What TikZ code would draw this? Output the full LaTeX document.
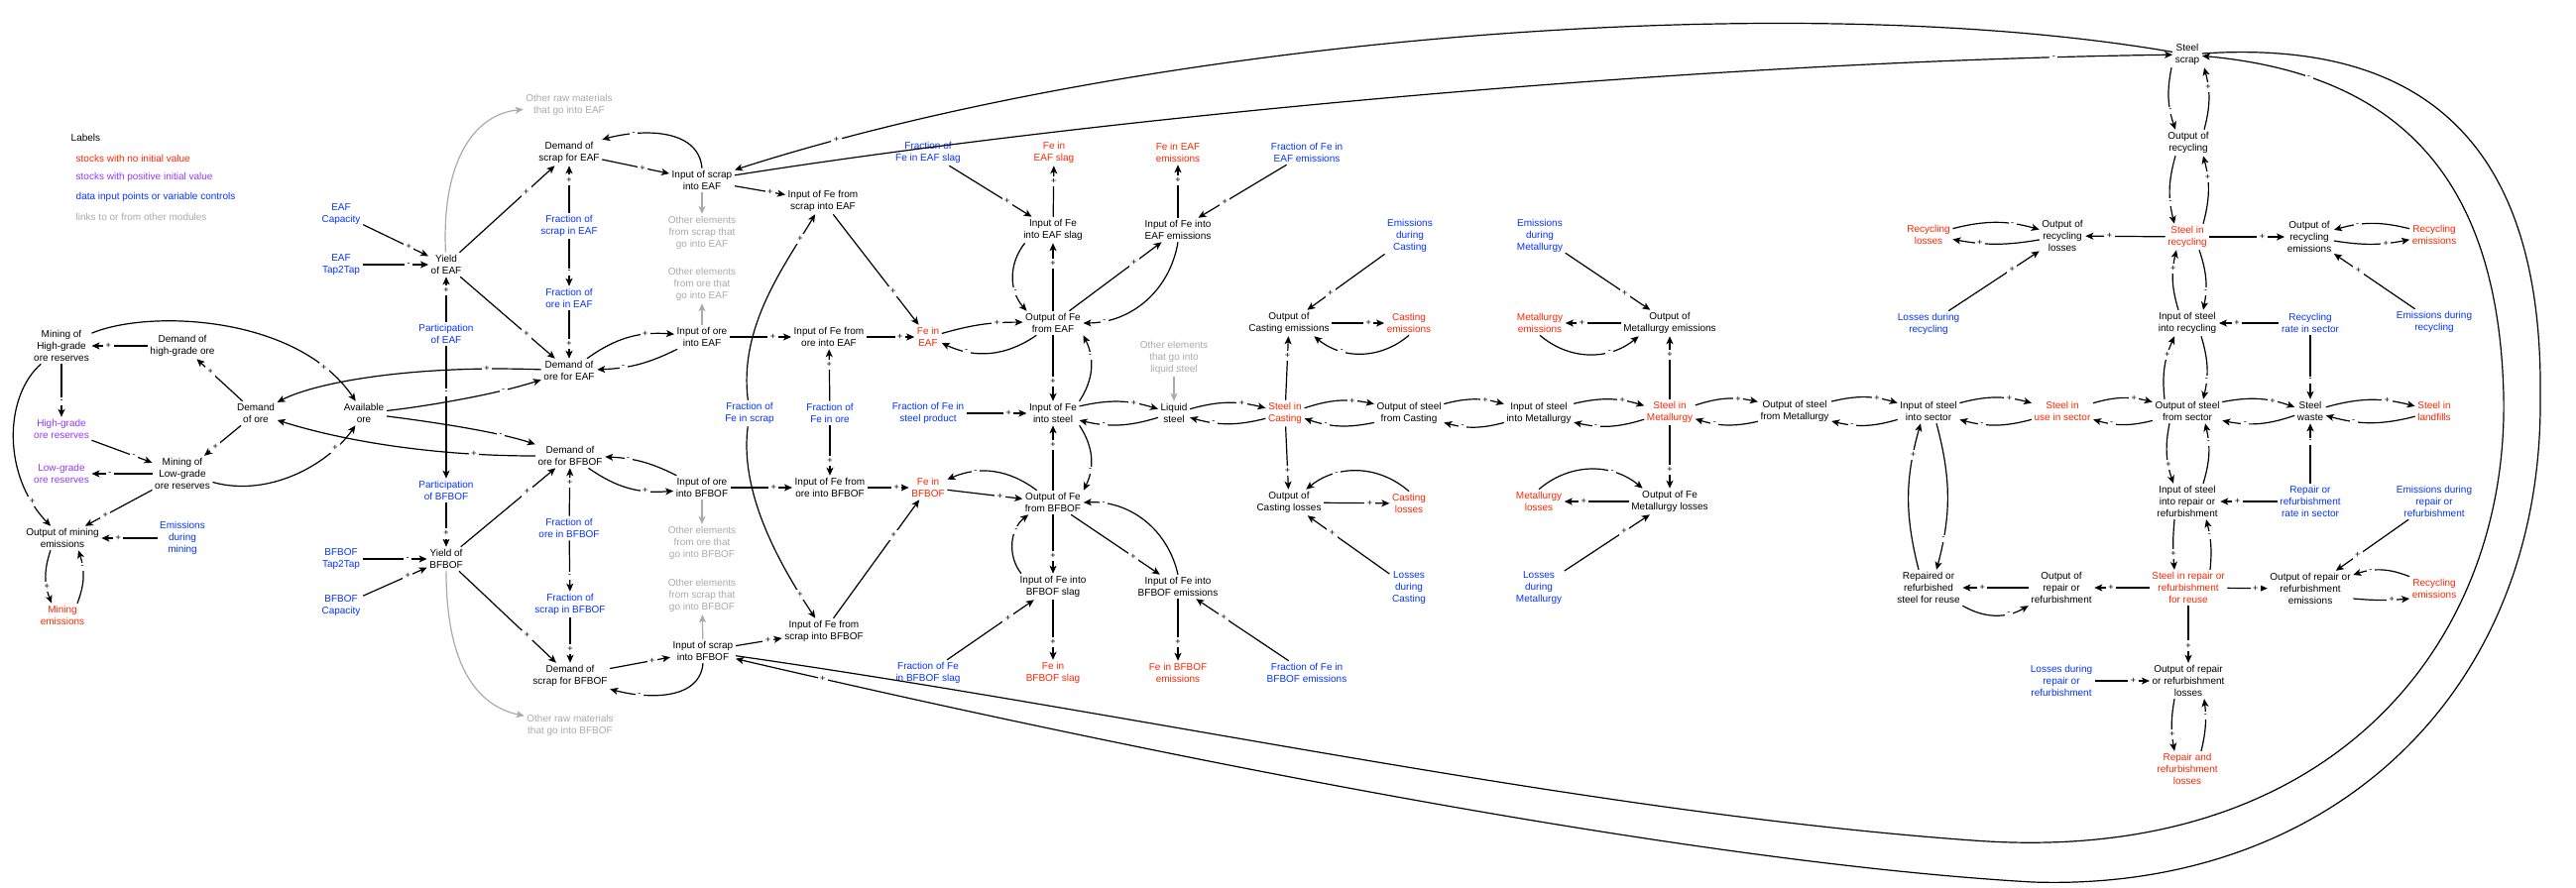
\documentclass[tikz,border=0pt]{standalone}
\usepackage{fontspec}
\setmainfont{Liberation Sans}
\usetikzlibrary{arrows.meta}
\definecolor{cred}{RGB}{255,38,0}
\definecolor{cpur}{RGB}{148,55,255}
\definecolor{cblu}{RGB}{4,51,255}
\definecolor{cgry}{RGB}{170,170,170}
\begin{document}
\begin{tikzpicture}[x=1pt,y=-1pt,
  every node/.style={font=\fontsize{10}{11.8}\selectfont},
  nblk/.style={align=center, inner sep=2.5pt},
  nred/.style={nblk, text=cred},
  npur/.style={nblk, text=cpur},
  nblu/.style={nblk, text=cblu},
  ngry/.style={nblk, text=cgry},
  lk/.style={draw, line width=1.2pt, -{Stealth[length=8pt,width=7pt,inset=2pt]}},
  glk/.style={lk, draw=cgry},
  pp/.style={pos=0.7, fill=white, inner sep=2.5pt, font=\fontsize{9}{9}\selectfont}]
\fill[white] (0,0) rectangle (2598,895);
\useasboundingbox (0,0) rectangle (2598,895);
% legend
\node[nblk,anchor=west] (lab) at (69,139) {Labels};
\node[nred,anchor=west] (leg1) at (74,160) {stocks with no initial value};
\node[npur,anchor=west] (leg2) at (74,179) {stocks with positive initial value};
\node[nblu,anchor=west] (leg3) at (74,199) {data input points or variable controls};
\node[ngry,anchor=west] (leg4) at (74,219) {links to or from other modules};
% mining
\node[nblk] (mhg) at (62,349) {Mining of\\High-grade\\ore reserves};
\node[nblk] (dhg) at (184,349) {Demand of\\high-grade ore};
\node[nblk] (dore) at (258,417) {Demand\\of ore};
\node[nblk] (aore) at (367,417) {Available\\ore};
\node[npur] (hgr) at (62,433) {High-grade\\ore reserves};
\node[npur] (lgr) at (62,478) {Low-grade\\ore reserves};
\node[nblk] (mlg) at (184,478) {Mining of\\Low-grade\\ore reserves};
\node[nblk] (ome) at (63,543) {Output of mining\\emissions};
\node[nblu] (edm) at (184,543) {Emissions\\during\\mining};
\node[nred] (me) at (63,621) {Mining\\emissions};
% EAF
\node[nblu] (eafcap) at (344,216) {EAF\\Capacity};
\node[nblu] (eaft2t) at (344,267) {EAF\\Tap2Tap};
\node[nblk] (yeaf) at (450,267) {Yield\\of EAF};
\node[nblu] (peaf) at (450,337) {Participation\\of EAF};
\node[ngry] (ormeaf) at (574,106) {Other raw materials\\that go into EAF};
\node[nblk] (dseaf) at (574,154) {Demand of\\scrap for EAF};
\node[nblu] (fseaf) at (574,228) {Fraction of\\scrap in EAF};
\node[nblu] (foeaf) at (574,301) {Fraction of\\ore in EAF};
\node[nblk] (doeaf) at (574,374) {Demand of\\ore for EAF};
\node[nblk] (iseaf) at (708,182) {Input of scrap\\into EAF};
\node[ngry] (oeseaf) at (708,235) {Other elements\\from scrap that\\go into EAF};
\node[ngry] (oeoeaf) at (708,287) {Other elements\\from ore that\\go into EAF};
\node[nblk] (ioeaf) at (708,340) {Input of ore\\into EAF};
\node[nblk] (ifseaf) at (830,203) {Input of Fe from\\scrap into EAF};
\node[nblk] (ifoeaf) at (836,340) {Input of Fe from\\ore into EAF};
\node[nblu] (ffs) at (756,417) {Fraction of\\Fe in scrap};
\node[nblu] (ffo) at (837,417) {Fraction of\\Fe in ore};
% BFBOF
\node[nblu] (bft2t) at (344,564) {BFBOF\\Tap2Tap};
\node[nblu] (bfcap) at (344,611) {BFBOF\\Capacity};
\node[nblk] (ybf) at (450,564) {Yield of\\BFBOF};
\node[nblu] (pbf) at (450,495) {Participation\\of BFBOF};
\node[nblk] (dobf) at (575,460) {Demand of\\ore for BFBOF};
\node[nblu] (fobf) at (574,533) {Fraction of\\ore in BFBOF};
\node[nblu] (fsbf) at (575,610) {Fraction of\\scrap in BFBOF};
\node[nblk] (dsbf) at (575,682) {Demand of\\scrap for BFBOF};
\node[ngry] (ormbf) at (575,732) {Other raw materials\\that go into BFBOF};
\node[nblk] (iobf) at (708,492) {Input of ore\\into BFBOF};
\node[ngry] (oeobf) at (708,548) {Other elements\\from ore that\\go into BFBOF};
\node[ngry] (oesbf) at (708,601) {Other elements\\from scrap that\\go into BFBOF};
\node[nblk] (isbf) at (709,657) {Input of scrap\\into BFBOF};
\node[nblk] (ifobf) at (837,492) {Input of Fe from\\ore into BFBOF};
\node[nblk] (ifsbf) at (831,637) {Input of Fe from\\scrap into BFBOF};
% Fe
\node[nblu] (ffeafslag) at (936,154) {Fraction of\\Fe in EAF slag};
\node[nred] (feeafslag) at (1063,154) {Fe in\\EAF slag};
\node[nred] (feeafem) at (1188,154) {Fe in EAF\\emissions};
\node[nblu] (ffeafem) at (1318,154) {Fraction of Fe in\\EAF emissions};
\node[nblk] (ifeeafslag) at (1062,232) {Input of Fe\\into EAF slag};
\node[nblk] (ifeeafem) at (1188,232) {Input of Fe into\\EAF emissions};
\node[nblk] (ofeeaf) at (1062,326) {Output of Fe\\from EAF};
\node[nred] (feeaf) at (936,340) {Fe in\\EAF};
\node[ngry] (oeliq) at (1184,361) {Other elements\\that go into\\liquid steel};
\node[nblu] (ffesteel) at (936,417) {Fraction of Fe in\\steel product};
\node[nblk] (ifesteel) at (1062,417) {Input of Fe\\into steel};
\node[nblk] (liq) at (1184,417) {Liquid\\steel};
\node[nred] (feb) at (936,492) {Fe in\\BFBOF};
\node[nblk] (ofeb) at (1062,507) {Output of Fe\\from BFBOF};
\node[nblk] (ifebslag) at (1062,592) {Input of Fe into\\BFBOF slag};
\node[nblk] (ifebem) at (1188,592) {Input of Fe into\\BFBOF emissions};
\node[nblu] (ffebslag) at (936,679) {Fraction of Fe\\in BFBOF slag};
\node[nred] (febslag) at (1062,679) {Fe in\\BFBOF slag};
\node[nred] (febem) at (1188,679) {Fe in BFBOF\\emissions};
\node[nblu] (ffebem) at (1318,679) {Fraction of Fe in\\BFBOF emissions};
% Casting / Metallurgy
\node[nred] (sic) at (1296,417) {Steel in\\Casting};
\node[nblk] (oce) at (1300,326) {Output of\\Casting emissions};
\node[nblk] (ocl) at (1300,507) {Output of\\Casting losses};
\node[nblu] (edc) at (1422,238) {Emissions\\during\\Casting};
\node[nred] (ce) at (1421,326) {Casting\\emissions};
\node[nred] (cl) at (1421,508) {Casting\\losses};
\node[nblu] (ldc) at (1421,593) {Losses\\during\\Casting};
\node[nblk] (osc) at (1421,417) {Output of steel\\from Casting};
\node[nblk] (ism) at (1552,417) {Input of steel\\into Metallurgy};
\node[nblu] (edmet) at (1553,238) {Emissions\\during\\Metallurgy};
\node[nred] (metem) at (1553,326) {Metallurgy\\emissions};
\node[nred] (metl) at (1552,506) {Metallurgy\\losses};
\node[nblu] (ldm) at (1552,593) {Losses\\during\\Metallurgy};
\node[nred] (sim) at (1684,416) {Steel in\\Metallurgy};
\node[nblk] (ome2) at (1684,326) {Output of\\Metallurgy emissions};
\node[nblk] (ofml) at (1684,506) {Output of Fe\\Metallurgy losses};
\node[nblk] (osm) at (1810,415) {Output of steel\\from Metallurgy};
% sector
\node[nblk] (iss) at (1945,415) {Input of steel\\into sector};
\node[nred] (rl) at (1945,237) {Recycling\\losses};
\node[nblu] (ldr) at (1945,327) {Losses during\\recycling};
\node[nblk] (orl) at (2080,238) {Output of\\recycling\\losses};
\node[nred] (sius) at (2080,415) {Steel in\\use in sector};
\node[nblk] (rrs) at (1945,593) {Repaired or\\refurbished\\steel for reuse};
\node[nblk] (orr) at (2079,593) {Output of\\repair or\\refurbishment};
\node[nblu] (ldrr) at (2079,687) {Losses during\\repair or\\refurbishment};
\node[nblk] (ss) at (2206,55) {Steel\\scrap};
\node[nblk] (orec) at (2207,144) {Output of\\recycling};
\node[nred] (sir) at (2206,239) {Steel in\\recycling};
\node[nblk] (ore) at (2329,239) {Output of\\recycling\\emissions};
\node[nred] (re1) at (2455,237) {Recycling\\emissions};
\node[nblk] (isr) at (2206,326) {Input of steel\\into recycling};
\node[nblu] (rrate) at (2330,326) {Recycling\\rate in sector};
\node[nblu] (edr) at (2455,325) {Emissions during\\recycling};
\node[nblk] (oss) at (2206,415) {Output of steel\\from sector};
\node[nblk] (sw) at (2330,415) {Steel\\waste};
\node[nred] (sil) at (2455,415) {Steel in\\landfills};
\node[nblk] (isrr) at (2206,506) {Input of steel\\into repair or\\refurbishment};
\node[nblu] (rrrate) at (2330,506) {Repair or\\refurbishment\\rate in sector};
\node[nblu] (edrr) at (2455,506) {Emissions during\\repair or\\refurbishment};
\node[nred] (sirr) at (2207,593) {Steel in repair or\\refurbishment\\for reuse};
\node[nblk] (orre) at (2330,594) {Output of repair or\\refurbishment\\emissions};
\node[nred] (re2) at (2455,594) {Recycling\\emissions};
\node[nblk] (orrl) at (2207,687) {Output of repair\\or refurbishment\\losses};
\node[nred] (rrl) at (2206,776) {Repair and\\refurbishment\\losses};

% ---------- mining links
\draw[lk] (dhg) -- node[pp]{+} (mhg);
\draw[lk] (mhg) -- node[pp]{-} (hgr);
\draw[lk] (dore) -- node[pp]{+} (dhg);
\draw[lk] (dore) -- node[pp]{+} (mlg);
\draw[lk] (hgr) -- node[pp]{-} (mlg);
\draw[lk] (mlg) -- node[pp]{-} (lgr);
\draw[lk] (mlg) -- node[pp]{+} (ome);
\draw[lk] (mhg) .. controls (4,400) and (2,480) .. node[pp,pos=0.85]{+} (ome);
\draw[lk] (edm) -- node[pp]{+} (ome);
\draw[lk] ([xshift=-12pt]ome.south) to[bend right=20] node[pp]{+} ([xshift=-11pt]me.north);
\draw[lk] ([xshift=15pt]me.north) to[bend right=20] node[pp]{-} ([xshift=16pt]ome.south);
\draw[lk] (mhg) .. controls (150,312) and (300,318) .. node[pp,pos=0.85]{+} (aore);
\draw[lk] (mlg) .. controls (270,502) and (330,470) .. node[pp,pos=0.8]{+} (aore);
\draw[lk] (doeaf) .. controls (420,368) and (320,385) .. node[pp,pos=0.15]{+} (dore);
\draw[lk] (dobf) .. controls (420,460) and (330,440) .. node[pp,pos=0.18]{+} (dore);
\draw[lk] (aore) .. controls (430,410) and (500,398) .. node[pp,pos=0.75]{-} (doeaf);
\draw[lk] (aore) .. controls (430,425) and (500,435) .. node[pp,pos=0.75]{-} (dobf);
% ---------- EAF links
\draw[lk] (eafcap) -- node[pp]{+} (yeaf);
\draw[lk] (eaft2t) -- node[pp]{-} (yeaf);
\draw[lk] (peaf) -- node[pp]{+} (yeaf);
\draw[lk] (yeaf) -- node[pp]{+} (dseaf);
\draw[lk] (yeaf) -- node[pp]{+} (doeaf);
\draw[glk] (yeaf) .. controls (445,160) and (480,115) .. (ormeaf);
\draw[lk] (fseaf) -- node[pp]{+} (dseaf);
\draw[lk] (fseaf) -- node[pp]{-} (foeaf);
\draw[lk] (foeaf) -- node[pp]{+} (doeaf);
\draw[lk] (dseaf) -- node[pp,pos=0.6]{+} (iseaf);
\draw[lk] (iseaf.north) to[out=95,in=15] node[pp,pos=0.75]{-} (dseaf.north east);
\draw[glk] (iseaf) -- (oeseaf);
\draw[lk] (iseaf) -- node[pp]{+} (ifseaf);
\draw[lk] (doeaf) to[bend left=20] node[pp]{+} (ioeaf);
\draw[lk] (ioeaf) to[bend left=12] node[pp]{-} (doeaf);
\draw[glk] (ioeaf) -- (oeoeaf);
\draw[lk] (ioeaf) -- node[pp]{+} (ifoeaf);
\draw[lk] (ffs) .. controls (745,330) and (790,270) .. node[pp,pos=0.85]{+} (ifseaf);
\draw[lk] (ffs) .. controls (745,500) and (790,575) .. node[pp,pos=0.85]{+} (ifsbf);
\draw[lk] (ffo) -- node[pp]{+} (ifoeaf);
\draw[lk] (ffo) -- node[pp]{+} (ifobf);
% ---------- BFBOF links
\draw[lk] (bft2t) -- node[pp]{-} (ybf);
\draw[lk] (bfcap) -- node[pp]{+} (ybf);
\draw[lk] (peaf) -- node[pp,pos=0.35]{-} (pbf);
\draw[lk] (pbf) -- node[pp]{+} (ybf);
\draw[lk] (ybf) -- node[pp]{+} (dobf);
\draw[lk] (ybf) -- node[pp]{+} (dsbf);
\draw[glk] (ybf) .. controls (450,670) and (480,712) .. (ormbf);
\draw[lk] (fobf) -- node[pp]{+} (dobf);
\draw[lk] (fobf) -- node[pp]{-} (fsbf);
\draw[lk] (fsbf) -- node[pp]{+} (dsbf);
\draw[lk] (dobf) to[bend right=20] node[pp]{+} (iobf);
\draw[lk] (iobf) to[bend right=12] node[pp]{-} (dobf);
\draw[glk] (iobf) -- (oeobf);
\draw[lk] (iobf) -- node[pp]{+} (ifobf);
\draw[lk] (dsbf) -- node[pp]{+} (isbf);
\draw[lk] (isbf.south) to[out=-95,in=-15] node[pp,pos=0.75]{-} (dsbf.south east);
\draw[glk] (isbf) -- (oesbf);
\draw[lk] (isbf) -- node[pp]{+} (ifsbf);
% ---------- Fe links
\draw[lk] (ifseaf) -- node[pp]{+} (feeaf);
\draw[lk] (ifoeaf) -- node[pp]{+} (feeaf);
\draw[lk] (feeaf) to[bend left=8] node[pp]{+} (ofeeaf);
\draw[lk] (ofeeaf) to[bend left=30] node[pp,pos=0.75]{-} (feeaf);
\draw[lk] (ofeeaf) -- node[pp]{+} (ifeeafslag);
\draw[lk] ([xshift=4pt]ifeeafslag.south west) to[bend right=40] node[pp]{-} ([xshift=4pt]ofeeaf.north west);
\draw[lk] (ifeeafslag) -- node[pp]{+} (feeafslag);
\draw[lk] (ffeafslag) -- node[pp]{+} (ifeeafslag);
\draw[lk] (ofeeaf) -- node[pp]{+} (ifeeafem);
\draw[lk] (ifeeafem.south) to[bend left=40] node[pp,pos=0.85]{-} (ofeeaf.east);
\draw[lk] (ifeeafem) -- node[pp]{+} (feeafem);
\draw[lk] (ffeafem) -- node[pp]{+} (ifeeafem);
\draw[lk] (ofeeaf) -- node[pp]{+} (ifesteel);
\draw[lk] (ifesteel.north east) to[bend right=30] node[pp]{-} (ofeeaf.south east);
\draw[lk] (ffesteel) -- node[pp]{+} (ifesteel);
\draw[lk] (ifesteel) to[bend left=15] node[pp]{+} (liq);
\draw[lk] (liq) to[bend left=15] node[pp]{-} (ifesteel);
\draw[glk] (oeliq) -- (liq);
\draw[lk] (liq) to[bend left=15] node[pp]{+} (sic);
\draw[lk] (sic) to[bend left=15] node[pp]{-} (liq);
\draw[lk] (ofeb) -- node[pp]{+} (ifesteel);
\draw[lk] (ifesteel.south east) to[bend left=30] node[pp]{-} (ofeb.north east);
\draw[lk] (ifobf) -- node[pp]{+} (feb);
\draw[lk] (ifsbf) -- node[pp]{+} (feb);
\draw[lk] (feb) -- node[pp]{+} (ofeb);
\draw[lk] (ofeb) to[bend right=30] node[pp]{-} (feb);
\draw[lk] (ofeb) -- node[pp]{+} (ifebslag);
\draw[lk] ([xshift=4pt]ifebslag.north west) to[bend left=45] node[pp]{-} ([xshift=6pt]ofeb.south west);
\draw[lk] (ifebslag) -- node[pp]{+} (febslag);
\draw[lk] (ffebslag) -- node[pp]{+} (ifebslag);
\draw[lk] (ofeb) -- node[pp]{+} (ifebem);
\draw[lk] (ifebem.north) to[bend right=40] node[pp,pos=0.85]{-} (ofeb.east);
\draw[lk] (ifebem) -- node[pp]{+} (febem);
\draw[lk] (ffebem) -- node[pp]{+} (ifebem);
% ---------- Casting / Metallurgy links
\draw[lk] (sic) -- node[pp]{+} (oce);
\draw[lk] (edc) -- node[pp]{+} (oce);
\draw[lk] (oce) -- node[pp]{+} (ce);
\draw[lk] (ce.south) to[bend left=40] node[pp]{-} ([xshift=-18pt]oce.south east);
\draw[lk] (sic) -- node[pp]{+} (ocl);
\draw[lk] (ocl) -- node[pp]{+} (cl);
\draw[lk] (cl.north) to[bend right=40] node[pp]{-} ([xshift=-18pt]ocl.north east);
\draw[lk] (ldc) -- node[pp]{+} (ocl);
\draw[lk] (sic) to[bend left=15] node[pp]{+} (osc);
\draw[lk] (osc) to[bend left=15] node[pp]{-} (sic);
\draw[lk] (osc) to[bend left=15] node[pp]{+} (ism);
\draw[lk] (ism) to[bend left=15] node[pp]{-} (osc);
\draw[lk] (ism) to[bend left=15] node[pp]{+} (sim);
\draw[lk] (sim) to[bend left=15] node[pp]{-} (ism);
\draw[lk] (sim) -- node[pp]{+} (ome2);
\draw[lk] (edmet) -- node[pp]{+} (ome2);
\draw[lk] (ome2) -- node[pp]{+} (metem);
\draw[lk] (metem.south) to[bend right=40] node[pp]{-} ([xshift=18pt]ome2.south west);
\draw[lk] (sim) -- node[pp]{+} (ofml);
\draw[lk] (ofml) -- node[pp]{+} (metl);
\draw[lk] (metl.north) to[bend left=40] node[pp]{-} ([xshift=14pt]ofml.north west);
\draw[lk] (ldm) -- node[pp]{+} (ofml);
\draw[lk] (sim) to[bend left=15] node[pp]{+} (osm);
\draw[lk] (osm) to[bend left=15] node[pp]{-} (sim);
\draw[lk] (osm) to[bend left=15] node[pp]{+} (iss);
\draw[lk] (iss) to[bend left=15] node[pp]{-} (osm);
% ---------- sector links
\draw[lk] (iss) to[bend left=15] node[pp]{+} (sius);
\draw[lk] (sius) to[bend left=15] node[pp]{-} (iss);
\draw[lk] (sius) to[bend left=15] node[pp]{+} (oss);
\draw[lk] (oss) to[bend left=15] node[pp]{-} (sius);
\draw[lk] ([xshift=8pt]iss.south) to[bend left=15] node[pp,pos=0.8]{-} ([xshift=8pt]rrs.north);
\draw[lk] ([xshift=-10pt]rrs.north) to[bend left=15] node[pp,pos=0.8]{+} ([xshift=-8pt]iss.south);
\draw[lk] (orr) -- node[pp]{+} (rrs);
\draw[lk] (rrs.south east) to[bend right=30] node[pp]{-} (orr.south west);
\draw[lk] (sirr) -- node[pp]{+} (orr);
\draw[lk] ([xshift=-18pt]oss.south) to[bend right=15] node[pp]{+} ([xshift=-14pt]isrr.north);
\draw[lk] ([xshift=16pt]isrr.north) to[bend right=15] node[pp]{-} ([xshift=18pt]oss.south);
\draw[lk] (rrrate) -- node[pp]{+} (isrr);
\draw[lk] (rrrate) -- node[pp]{-} (sw);
\draw[lk] (oss) to[bend left=15] node[pp]{+} (sw);
\draw[lk] (sw) to[bend left=15] node[pp]{-} (oss);
\draw[lk] (sw) to[bend left=15] node[pp]{+} (sil);
\draw[lk] (sil) to[bend left=15] node[pp]{-} (sw);
\draw[lk] (rrate) -- node[pp]{-} (sw);
\draw[lk] (rrate) -- node[pp]{+} (isr);
\draw[lk] ([xshift=-23pt]oss.north) to[bend left=15] node[pp]{+} ([xshift=-13pt]isr.south);
\draw[lk] ([xshift=14pt]isr.south) to[bend left=15] node[pp]{-} ([xshift=16pt]oss.north);
\draw[lk] ([xshift=-9pt]isr.north) to[bend left=15] node[pp]{+} ([xshift=-11pt]sir.south);
\draw[lk] ([xshift=12pt]sir.south) to[bend left=15] node[pp]{-} ([xshift=16pt]isr.north);
\draw[lk] ([xshift=16pt]sir.north) to[bend right=15] node[pp]{+} ([xshift=15pt]orec.south);
\draw[lk] ([xshift=-13pt]orec.south) to[bend right=15] node[pp]{-} ([xshift=-13pt]sir.north);
\draw[lk] ([xshift=16pt]orec.north) to[bend right=15] node[pp]{+} ([xshift=17pt]ss.south);
\draw[lk] ([xshift=-16pt]ss.south) to[bend right=15] node[pp]{-} ([xshift=-13pt]orec.north);
\draw[lk] (sir) -- node[pp]{+} (orl);
\draw[lk] (orl) to[bend left=10] node[pp]{+} (rl);
\draw[lk] (rl) to[bend left=15] node[pp]{-} (orl);
\draw[lk] (ldr) -- node[pp]{+} (orl);
\draw[lk] (sir) -- node[pp]{+} (ore);
\draw[lk] (ore) to[bend right=10] node[pp]{+} (re1);
\draw[lk] (re1) to[bend right=15] node[pp]{-} (ore);
\draw[lk] (edr) -- node[pp]{+} (ore);
\draw[lk] ([xshift=-13pt]isrr.south) to[bend right=5] node[pp]{+} ([xshift=-14pt]sirr.north);
\draw[lk] ([xshift=22pt]sirr.north) to[bend right=10] node[pp]{-} ([xshift=19pt]isrr.south);
\draw[lk] (sirr) -- node[pp]{+} (orre);
\draw[lk] ([yshift=-10pt]orre.east) to[bend right=5] node[pp]{+} ([yshift=-10pt]re2.west);
\draw[lk] (re2.north west) to[bend right=20] node[pp]{-} ([yshift=14pt]orre.east);
\draw[lk] (edrr) -- node[pp]{+} (orre);
\draw[lk] (sirr) -- node[pp]{+} (orrl);
\draw[lk] (ldrr) -- node[pp]{+} (orrl);
\draw[lk] ([xshift=-14pt]orrl.south) to[bend right=10] node[pp]{+} ([xshift=-13pt]rrl.north);
\draw[lk] ([xshift=14pt]rrl.north) to[bend right=10] node[pp]{-} ([xshift=16pt]orrl.south);
% ---------- steel scrap long links
\draw[lk] (iseaf) .. controls (1100,120) and (1700,62) .. node[pp,pos=0.92]{-} (ss);
\draw[lk] (ss) .. controls (1800,-15) and (1150,40) .. node[pp,pos=0.92]{+} (iseaf);
\draw[lk] (isbf) .. controls (1150,720) and (1600,820) .. (1990,848)
   .. controls (2350,875) and (2530,650) .. (2525,400)
   .. controls (2520,180) and (2420,75) .. node[pp,pos=0.8]{-} (ss);
\draw[lk] (ss) .. controls (2430,40) and (2565,130) .. (2562,400)
   .. controls (2565,700) and (2350,900) .. (2050,890)
   .. controls (1700,870) and (1150,760) .. node[pp,pos=0.93]{+} (isbf);
\end{tikzpicture}
\end{document}
